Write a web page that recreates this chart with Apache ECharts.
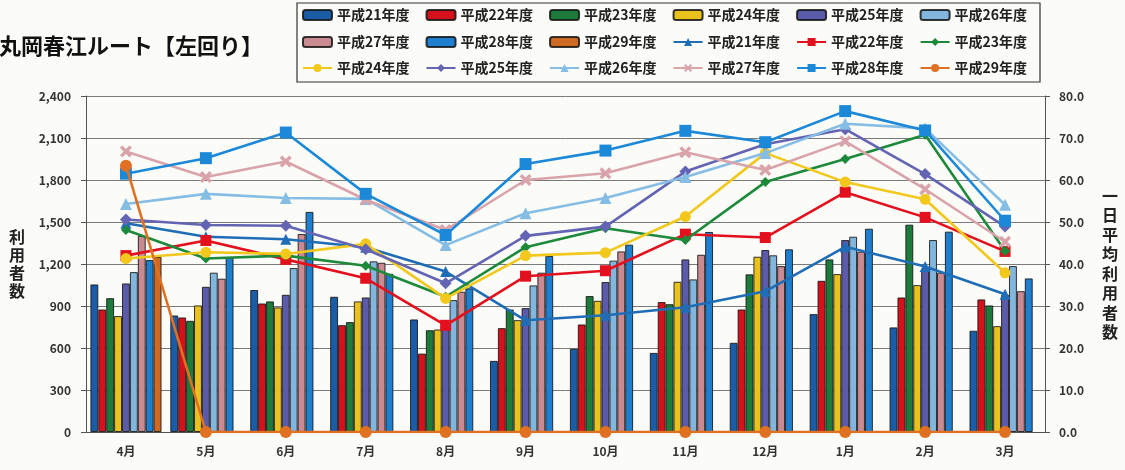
<!DOCTYPE html>
<html>
<head>
<meta charset="utf-8">
<title>丸岡春江ルート【左回り】</title>
<script src="https://cdn.jsdelivr.net/npm/echarts@6/dist/echarts.min.js"></script>
<style>
  html, body { margin: 0; padding: 0; background: #fbfbf8; }
  #chart { width: 1125px; height: 470px; }
</style>
</head>
<body>
<div id="chart"></div>
<script>
// 月
const months = ["4月", "5月", "6月", "7月", "8月", "9月", "10月", "11月", "12月", "1月", "2月", "3月"];
const years = ["平成21年度", "平成22年度", "平成23年度", "平成24年度", "平成25年度", "平成26年度", "平成27年度", "平成28年度", "平成29年度"];

// 利用者数（棒グラフ・左軸）
const users21 = [1054, 832, 1014, 966, 804, 508, 594, 565, 637, 842, 747, 723];
const users22 = [875, 818, 918, 763, 560, 742, 768, 928, 875, 1080, 961, 947];
const users23 = [956, 794, 933, 785, 727, 875, 971, 913, 1126, 1233, 1481, 904];
const users24 = [828, 904, 890, 933, 732, 799, 937, 1073, 1252, 1128, 1049, 756];
const users25 = [1061, 1037, 980, 961, 760, 885, 1071, 1233, 1300, 1371, 1160, 980];
const users26 = [1142, 1138, 1171, 1219, 942, 1047, 1224, 1090, 1262, 1395, 1371, 1185];
const users27 = [1400, 1095, 1414, 1209, 1002, 1138, 1290, 1266, 1185, 1288, 1138, 1006];
const users28 = [1228, 1243, 1572, 1130, 1026, 1257, 1338, 1429, 1305, 1452, 1431, 1097];
const users29 = [1250, null, null, null, null, null, null, null, null, null, null, null];

// 一日平均利用者数（折れ線・右軸）
const avg21 = [49.7, 46.5, 45.9, 44.0, 38.2, 26.6, 27.8, 29.7, 33.5, 44.1, 39.4, 32.8];
const avg22 = [42.0, 45.6, 41.1, 36.6, 25.4, 37.1, 38.4, 47.1, 46.3, 57.1, 51.1, 43.0];
const avg23 = [48.1, 41.3, 42.0, 39.6, 32.2, 44.0, 48.5, 45.7, 59.5, 65.0, 70.8, 43.1];
const avg24 = [41.3, 42.8, 42.4, 44.8, 31.8, 42.0, 42.7, 51.3, 66.4, 59.5, 55.4, 37.9];
const avg25 = [50.6, 49.3, 49.1, 43.5, 35.4, 46.7, 48.9, 62.0, 68.5, 72.1, 61.4, 48.9];
const avg26 = [54.3, 56.7, 55.7, 55.5, 44.5, 52.1, 55.7, 60.7, 66.4, 73.4, 72.3, 54.1];
const avg27 = [66.8, 60.7, 64.4, 55.3, 48.1, 60.0, 61.6, 66.6, 62.4, 69.2, 57.8, 45.3];
const avg28 = [61.5, 65.2, 71.3, 56.7, 46.9, 63.8, 67.0, 71.7, 69.0, 76.4, 71.8, 50.3];
const avg29 = [63.4, 0, 0, 0, 0, 0, 0, 0, 0, 0, 0, 0];

const leftTicks = [0, 300, 600, 900, 1200, 1500, 1800, 2100, 2400];
const rightTicks = [0, 10, 20, 30, 40, 50, 60, 70, 80];

const barData = [users21, users22, users23, users24, users25, users26, users27, users28, users29];
const lineData = [avg21, avg22, avg23, avg24, avg25, avg26, avg27, avg28, avg29];

const barColors = ["#1b5ca6", "#d5121c", "#1d7a3a", "#e9c21e", "#5b5ba9", "#82b6dd", "#c98a92", "#1f7fcf", "#cf6a22"];
const lineColors = ["#1f6db6", "#e3101e", "#1c8a3a", "#f2c81c", "#6464b4", "#86bde4", "#d9a3aa", "#1b89d8", "#e07022"];
const crossPath = "path://M2,0L5,3L8,0L10,2L7,5L10,8L8,10L5,7L2,10L0,8L3,5L0,2Z";
const lineSymbols = ["triangle", "rect", "diamond", "circle", "diamond", "triangle", crossPath, "rect", "circle"];
const lineSymbolSize = [11, 11, 10, 11, 12, 12, 12, 12, 12];

const FONT = "'Noto Sans CJK JP', 'Noto Sans', sans-serif";
const ZW = "\u200b"; // 折れ線の凡例名を棒と区別する

let series = [];
years.forEach((y, i) => {
  series.push({
    name: y,
    type: "bar",
    yAxisIndex: 0,
    data: barData[i],
    barGap: "0%",
    barCategoryGap: "11%",
    itemStyle: {
      color: barColors[i],
      borderColor: "rgba(20,20,20,0.85)",
      borderWidth: 1,
    },
  });
});
years.forEach((y, i) => {
  series.push({
    name: y + ZW,
    type: "line",
    yAxisIndex: 1,
    data: lineData[i],
    symbol: lineSymbols[i],
    symbolSize: lineSymbolSize[i],
    lineStyle: { color: lineColors[i], width: 2.6 },
    itemStyle: { color: lineColors[i] },
    z: 3 + i,
  });
});

const legendBase = {
  orient: "horizontal",
  left: 302,
  padding: 0,
  itemGap: 16,
  itemWidth: 29,
  itemHeight: 10,
  textStyle: { fontFamily: FONT, fontSize: 14, fontWeight: "bold", color: "#222" },
  formatter: name => name.replace(ZW, ""),
};
const barNames = years.slice();
const lineNames = years.map(y => y + ZW);

let myChart = echarts.init(document.getElementById("chart"));
let option = {
  backgroundColor: "#fbfbf8",
  animation: false,
  title: {
    text: "丸岡春江ルート【左回り】",
    left: -6,
    top: 30,
    textStyle: { fontFamily: FONT, fontSize: 22, fontWeight: "bold", color: "#111" },
  },
  legend: [
    Object.assign({}, legendBase, { top: 8, data: barNames.slice(0, 6) }),
    Object.assign({}, legendBase, { top: 35, data: barNames.slice(6, 9).concat(lineNames.slice(0, 3)) }),
    Object.assign({}, legendBase, { top: 61, data: lineNames.slice(3, 9) }),
  ],
  graphic: [
    {
      type: "rect",
      shape: { x: 297, y: 3, width: 743, height: 79 },
      style: { fill: "none", stroke: "#333", lineWidth: 1.2 },
      silent: true,
    },
  ],
  grid: { left: 86, right: 80, top: 96, bottom: 38 },
  xAxis: {
    type: "category",
    data: months,
    axisLine: { lineStyle: { color: "#555" } },
    axisTick: { length: 4, lineStyle: { color: "#555" } },
    axisLabel: { margin: 13, fontFamily: FONT, fontSize: 12, fontWeight: "bold", color: "#333" },
  },
  yAxis: [
    {
      type: "value",
      min: leftTicks[0],
      max: leftTicks[leftTicks.length - 1],
      interval: 300,
      name: "利\n用\n者\n数",
      nameLocation: "middle",
      nameRotate: 0,
      nameGap: 61,
      nameTextStyle: { fontFamily: FONT, fontSize: 16, fontWeight: "bold", color: "#222", lineHeight: 18, padding: [20, 0, 0, 0] },
      axisLine: { show: true, lineStyle: { color: "#555" } },
      axisTick: { show: true, length: 5, lineStyle: { color: "#555" } },
      axisLabel: {
        margin: 15,
        fontFamily: FONT,
        fontSize: 12,
        fontWeight: "bold",
        color: "#333",
        formatter: v => v.toLocaleString("en-US"),
      },
      splitLine: { lineStyle: { color: "#7a7a7a", width: 1 } },
    },
    {
      type: "value",
      min: rightTicks[0],
      max: rightTicks[rightTicks.length - 1],
      interval: 10,
      name: "一\n日\n平\n均\n利\n用\n者\n数",
      nameLocation: "middle",
      nameRotate: 0,
      nameGap: 57,
      nameTextStyle: { fontFamily: FONT, fontSize: 16, fontWeight: "bold", color: "#222", lineHeight: 19.5, padding: [8, 0, 0, 0] },
      axisLine: { show: true, lineStyle: { color: "#555" } },
      axisTick: { show: true, length: 5, lineStyle: { color: "#555" } },
      axisLabel: {
        margin: 14,
        fontFamily: FONT,
        fontSize: 12,
        fontWeight: "bold",
        color: "#333",
        formatter: v => v.toFixed(1),
      },
      splitLine: { show: false },
    },
  ],
  series: series,
};
myChart.setOption(option);
</script>
</body>
</html>
